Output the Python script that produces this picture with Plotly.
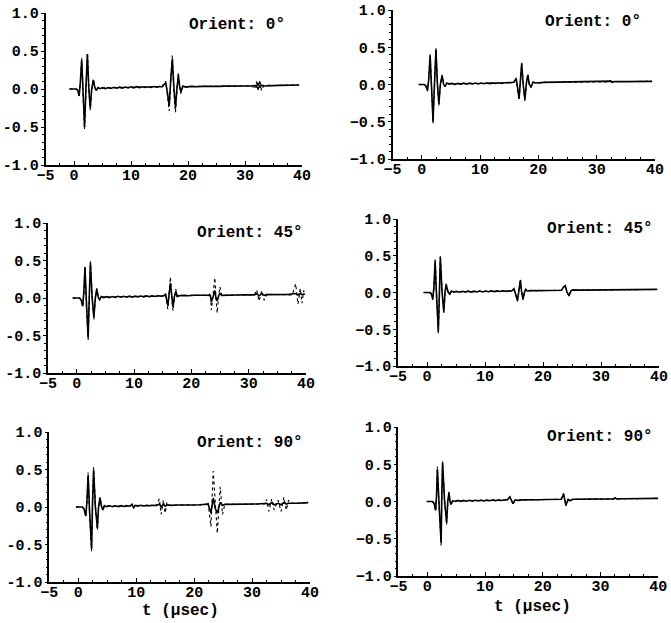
import plotly.graph_objects as go

# ---------------- data: [t (usec), amplitude] ----------------
solid_0_left = [[-0.8,0],[0.4,0],[0.65,-0.02],[0.9,-0.09],[1.1,0.08],[1.35,0.38],[1.6,-0.05],[1.85,-0.50],[2.1,0.02],[2.35,0.46],[2.6,0.0],[2.85,-0.25],[3.1,0.0],[3.4,0.12],[3.65,0.02],[3.9,-0.02],[4.2,0.02],[4.6,0.005],[5.0,0.018],[5.5,0.005],[6.0,0.02],[6.5,0.008],[7.0,0.022],[7.5,0.01],[8.0,0.024],[8.5,0.012],[9.0,0.026],[9.5,0.014],[10.0,0.028],[10.5,0.016],[11.0,0.03],[11.5,0.018],[12.0,0.03],[12.5,0.02],[13.0,0.03],[13.5,0.022],[14.0,0.032],[14.5,0.025],[15.0,0.032],[15.5,0.03],[15.8,0.06],[16.1,0.08],[16.4,-0.05],[16.7,-0.22],[16.95,0.1],[17.25,0.40],[17.5,0.05],[17.8,-0.25],[18.05,0.0],[18.3,0.18],[18.5,0.05],[18.75,-0.04],[19.1,0.04],[19.6,0.025],[20.5,0.035],[21.5,0.03],[22.5,0.035],[23.5,0.032],[24.5,0.036],[25.5,0.034],[26.5,0.038],[27.5,0.036],[28.5,0.04],[29.5,0.038],[30.5,0.04],[31.3,0.04],[31.7,0.045],[32.0,0.03],[32.3,0.08],[32.6,0.02],[32.9,0.05],[33.3,0.04],[34.0,0.045],[35.0,0.045],[36.0,0.048],[37.0,0.048],[38.0,0.05],[39.0,0.05],[39.5,0.052]]
dashed_0_left = [[-0.8,0],[0.4,0],[0.65,-0.01],[0.9,-0.1],[1.1,0.05],[1.35,0.41],[1.6,-0.1],[1.85,-0.53],[2.1,-0.02],[2.35,0.48],[2.6,0.04],[2.85,-0.28],[3.1,-0.03],[3.4,0.13],[3.65,0.03],[3.9,-0.03],[4.2,0.01],[4.6,0.015],[5.0,0.01],[5.5,0.015],[6.0,0.01],[6.5,0.018],[7.0,0.012],[7.5,0.02],[8.0,0.014],[8.5,0.022],[9.0,0.016],[9.5,0.024],[10.0,0.018],[10.5,0.026],[11.0,0.02],[11.5,0.028],[12.0,0.022],[12.5,0.03],[13.0,0.024],[13.5,0.03],[14.0,0.026],[14.5,0.032],[15.0,0.028],[15.5,0.035],[15.8,0.08],[16.1,0.1],[16.4,-0.1],[16.7,-0.29],[16.95,0.05],[17.25,0.44],[17.5,0.0],[17.8,-0.31],[18.05,-0.02],[18.3,0.22],[18.5,0.04],[18.75,-0.06],[19.1,0.04],[19.6,0.03],[21.0,0.035],[23.0,0.035],[25.0,0.037],[27.0,0.038],[29.0,0.04],[31.3,0.04],[31.7,0.0],[32.0,0.1],[32.3,-0.03],[32.6,0.12],[32.9,-0.02],[33.3,0.05],[35.0,0.046],[37.0,0.048],[39.5,0.052]]

solid_0_right = [[-0.5,0],[0.4,0],[0.7,-0.02],[1.0,-0.08],[1.2,0.06],[1.45,0.39],[1.7,-0.05],[1.95,-0.50],[2.2,0.02],[2.45,0.47],[2.7,0.0],[2.95,-0.26],[3.2,0.0],[3.5,0.12],[3.75,0.01],[4.0,-0.03],[4.3,0.02],[4.7,0.005],[5.2,0.015],[5.7,0.0],[6.2,0.015],[6.7,0.005],[7.2,0.018],[7.7,0.006],[8.2,0.018],[8.7,0.008],[9.2,0.02],[9.7,0.008],[10.2,0.02],[10.7,0.01],[11.2,0.022],[11.7,0.012],[12.2,0.022],[12.7,0.014],[13.2,0.024],[13.7,0.016],[14.2,0.024],[14.7,0.02],[15.2,0.025],[15.8,0.03],[16.2,0.08],[16.45,-0.05],[16.7,-0.19],[16.95,0.08],[17.15,0.28],[17.4,0.0],[17.7,-0.2],[17.95,0.02],[18.2,0.13],[18.45,0.0],[18.75,-0.03],[19.1,0.03],[19.6,0.02],[21.0,0.028],[23.0,0.03],[25.0,0.032],[27.0,0.033],[29.0,0.034],[31.0,0.035],[32.0,0.036],[32.4,0.045],[32.7,0.03],[33.0,0.04],[35.0,0.038],[37.0,0.04],[39.5,0.042]]
dashed_0_right = [[-0.5,0],[0.4,0],[0.7,-0.01],[1.0,-0.09],[1.2,0.05],[1.45,0.41],[1.7,-0.08],[1.95,-0.52],[2.2,0.0],[2.45,0.49],[2.7,0.02],[2.95,-0.28],[3.2,-0.02],[3.5,0.13],[3.75,0.02],[4.0,-0.03],[4.3,0.015],[4.7,0.01],[5.2,0.012],[5.7,0.006],[6.2,0.014],[6.7,0.008],[7.2,0.016],[7.7,0.01],[8.2,0.017],[8.7,0.01],[9.2,0.018],[9.7,0.012],[10.2,0.02],[10.7,0.014],[11.2,0.02],[11.7,0.016],[12.2,0.022],[12.7,0.018],[13.2,0.022],[13.7,0.02],[14.2,0.024],[14.7,0.022],[15.2,0.025],[15.8,0.03],[16.2,0.09],[16.45,-0.06],[16.7,-0.21],[16.95,0.06],[17.15,0.29],[17.4,0.0],[17.7,-0.22],[17.95,0.0],[18.2,0.14],[18.45,0.0],[18.75,-0.04],[19.1,0.03],[19.6,0.02],[21.0,0.028],[23.0,0.03],[25.0,0.032],[27.0,0.033],[29.0,0.034],[31.0,0.035],[32.0,0.036],[32.4,0.05],[32.7,0.025],[33.0,0.04],[35.0,0.038],[37.0,0.04],[39.5,0.042]]

solid_45_left = [[-0.7,0],[0.5,0],[0.8,-0.03],[1.05,-0.11],[1.25,0.08],[1.45,0.41],[1.7,-0.05],[2.0,-0.53],[2.2,0.02],[2.4,0.47],[2.7,0.0],[3.0,-0.26],[3.25,0.0],[3.5,0.12],[3.75,0.01],[4.0,-0.02],[4.3,0.02],[4.7,0.005],[5.2,0.018],[5.7,0.005],[6.2,0.02],[6.7,0.008],[7.2,0.022],[7.7,0.01],[8.2,0.022],[8.7,0.01],[9.2,0.024],[9.7,0.012],[10.2,0.025],[10.7,0.015],[11.2,0.026],[11.7,0.016],[12.2,0.028],[12.7,0.018],[13.2,0.028],[13.7,0.02],[14.2,0.03],[14.7,0.025],[15.2,0.03],[15.5,0.05],[15.9,-0.1],[16.1,0.05],[16.35,0.2],[16.6,0.02],[16.8,-0.12],[17.05,0.02],[17.3,0.09],[17.55,0.02],[17.8,0.03],[18.5,0.035],[19.5,0.03],[20.5,0.036],[21.5,0.032],[22.5,0.036],[23.3,0.035],[23.5,-0.05],[23.8,0.02],[24.1,0.1],[24.3,0.0],[24.5,-0.04],[24.8,0.04],[25.0,0.06],[25.3,0.035],[26.5,0.04],[28.0,0.04],[29.5,0.042],[31.0,0.042],[31.4,0.06],[31.8,0.03],[32.3,0.055],[32.7,0.035],[33.2,0.045],[35.0,0.046],[37.0,0.048],[38.2,0.06],[38.6,0.04],[39.0,0.06],[39.3,0.045],[39.8,0.055]]
dashed_45_left = [[-0.7,0],[0.5,0],[0.8,-0.02],[1.05,-0.12],[1.25,0.06],[1.45,0.43],[1.7,-0.1],[2.0,-0.56],[2.2,-0.02],[2.4,0.49],[2.7,0.03],[3.0,-0.29],[3.25,-0.03],[3.5,0.13],[3.75,0.02],[4.0,-0.03],[4.3,0.015],[4.7,0.012],[5.2,0.012],[5.7,0.012],[6.2,0.015],[6.7,0.014],[7.2,0.016],[7.7,0.016],[8.2,0.018],[8.7,0.016],[9.2,0.02],[9.7,0.018],[10.2,0.022],[10.7,0.02],[11.2,0.024],[11.7,0.022],[12.2,0.025],[12.7,0.024],[13.2,0.026],[13.7,0.026],[14.2,0.028],[14.7,0.028],[15.2,0.03],[15.5,0.06],[15.9,-0.15],[16.1,0.05],[16.35,0.28],[16.6,0.0],[16.8,-0.17],[17.05,0.0],[17.3,0.12],[17.55,0.0],[17.8,0.03],[18.5,0.035],[20.0,0.034],[21.5,0.034],[23.0,0.035],[23.3,0.06],[23.5,-0.16],[23.8,0.05],[24.1,0.27],[24.3,0.0],[24.5,-0.2],[24.8,0.05],[25.0,0.15],[25.3,0.03],[26.5,0.04],[28.0,0.04],[29.5,0.042],[31.0,0.042],[31.4,0.11],[31.8,-0.04],[32.3,0.1],[32.7,-0.03],[33.2,0.05],[35.0,0.046],[37.0,0.048],[37.6,0.04],[38.2,0.19],[38.6,-0.08],[39.0,0.13],[39.3,-0.07],[39.6,0.1],[39.8,0.05]]

solid_45_right = [[-0.6,0],[0.5,0],[0.75,-0.02],[1.0,-0.09],[1.2,0.08],[1.4,0.43],[1.65,-0.05],[1.95,-0.53],[2.15,0.02],[2.3,0.48],[2.6,0.0],[2.9,-0.26],[3.1,0.0],[3.3,0.11],[3.6,0.01],[3.9,-0.02],[4.2,0.02],[4.6,0.005],[5.1,0.015],[5.6,0.004],[6.1,0.016],[6.6,0.006],[7.1,0.018],[7.6,0.006],[8.1,0.018],[8.6,0.008],[9.1,0.02],[9.6,0.008],[10.1,0.02],[10.6,0.01],[11.1,0.022],[11.6,0.012],[12.1,0.022],[12.6,0.014],[13.1,0.024],[13.6,0.016],[14.1,0.024],[14.6,0.02],[15.0,0.05],[15.3,-0.02],[15.6,-0.11],[15.85,0.03],[16.1,0.17],[16.3,0.02],[16.55,-0.09],[16.8,0.0],[17.0,0.04],[17.3,0.02],[17.8,0.025],[19.0,0.025],[20.5,0.028],[22.0,0.03],[23.2,0.03],[23.5,0.07],[23.85,0.09],[24.15,0.0],[24.5,-0.04],[24.8,0.02],[25.1,0.035],[26.5,0.032],[28.0,0.034],[30.0,0.035],[32.0,0.036],[34.0,0.037],[36.0,0.038],[38.0,0.04],[39.7,0.042]]
dashed_45_right = [[-0.6,0],[0.5,0],[0.75,-0.01],[1.0,-0.1],[1.2,0.06],[1.4,0.45],[1.65,-0.08],[1.95,-0.56],[2.15,0.0],[2.3,0.5],[2.6,0.02],[2.9,-0.28],[3.1,-0.02],[3.3,0.12],[3.6,0.02],[3.9,-0.03],[4.2,0.015],[4.6,0.01],[5.1,0.012],[5.6,0.008],[6.1,0.014],[6.6,0.01],[7.1,0.016],[7.6,0.01],[8.1,0.016],[8.6,0.012],[9.1,0.018],[9.6,0.012],[10.1,0.018],[10.6,0.014],[11.1,0.02],[11.6,0.016],[12.1,0.02],[12.6,0.018],[13.1,0.022],[13.6,0.02],[14.1,0.022],[14.6,0.022],[15.0,0.04],[15.3,-0.03],[15.6,-0.12],[15.85,0.02],[16.1,0.18],[16.3,0.0],[16.55,-0.1],[16.8,0.0],[17.0,0.05],[17.3,0.02],[17.8,0.025],[19.0,0.025],[20.5,0.028],[22.0,0.03],[23.2,0.03],[23.5,0.07],[23.85,0.1],[24.15,0.0],[24.5,-0.05],[24.8,0.02],[25.1,0.035],[26.5,0.032],[28.0,0.034],[30.0,0.035],[32.0,0.036],[34.0,0.037],[36.0,0.038],[38.0,0.04],[39.7,0.042]]

solid_90_left = [[-0.4,0],[0.7,0],[1.0,-0.03],[1.3,-0.12],[1.5,0.08],[1.7,0.43],[1.95,-0.05],[2.3,-0.56],[2.45,0.02],[2.65,0.5],[2.95,0.0],[3.3,-0.28],[3.5,0.0],[3.75,0.12],[4.0,0.01],[4.25,-0.04],[4.5,0.02],[4.9,0.005],[5.4,0.016],[5.9,0.004],[6.4,0.016],[6.9,0.006],[7.4,0.018],[7.9,0.008],[8.4,0.018],[8.9,0.01],[9.3,0.03],[9.55,-0.01],[9.8,0.02],[10.3,0.012],[10.8,0.022],[11.3,0.014],[11.8,0.022],[12.3,0.016],[12.8,0.024],[13.5,0.02],[14.0,0.04],[14.3,0.0],[14.7,0.04],[15.0,0.01],[15.4,0.03],[16.0,0.022],[17.0,0.026],[18.0,0.024],[19.0,0.028],[20.0,0.026],[21.0,0.03],[22.0,0.03],[22.4,0.04],[22.9,-0.08],[23.3,0.12],[23.65,-0.02],[24.0,-0.08],[24.5,0.06],[24.9,0.02],[25.3,0.035],[26.5,0.035],[28.0,0.037],[29.5,0.038],[31.0,0.04],[32.5,0.05],[32.9,0.03],[33.4,0.06],[33.8,0.03],[34.5,0.05],[35.0,0.03],[35.5,0.06],[35.9,0.04],[36.3,0.05],[37.0,0.048],[38.0,0.05],[39.0,0.055],[39.7,0.058]]
dashed_90_left = [[-0.4,0],[0.7,0],[1.0,-0.02],[1.3,-0.13],[1.5,0.06],[1.7,0.46],[1.95,-0.1],[2.3,-0.59],[2.45,-0.02],[2.65,0.53],[2.95,0.03],[3.3,-0.31],[3.5,-0.03],[3.75,0.13],[4.0,0.02],[4.25,-0.05],[4.5,0.015],[4.9,0.012],[5.4,0.012],[5.9,0.012],[6.4,0.014],[6.9,0.014],[7.4,0.016],[7.9,0.016],[8.4,0.018],[8.9,0.016],[9.3,0.04],[9.55,-0.02],[9.8,0.025],[10.3,0.018],[10.8,0.02],[11.3,0.02],[11.8,0.022],[12.3,0.022],[12.8,0.024],[13.5,0.022],[14.0,0.11],[14.3,-0.1],[14.7,0.09],[15.0,-0.08],[15.3,0.06],[15.6,0.02],[16.0,0.022],[17.0,0.026],[18.0,0.024],[19.0,0.028],[20.0,0.026],[21.0,0.03],[22.0,0.03],[22.4,0.07],[22.9,-0.26],[23.3,0.48],[23.65,0.0],[24.0,-0.35],[24.5,0.27],[24.9,-0.1],[25.3,0.035],[26.5,0.035],[28.0,0.037],[29.5,0.038],[31.0,0.04],[32.2,0.04],[32.5,0.1],[32.9,-0.06],[33.4,0.11],[33.8,-0.04],[34.5,0.09],[35.0,-0.06],[35.5,0.13],[35.9,-0.04],[36.3,0.09],[36.7,0.05],[37.5,0.05],[38.5,0.052],[39.7,0.058]]

solid_90_right = [[-0.1,0],[0.9,0],[1.2,-0.03],[1.45,-0.12],[1.6,0.08],[1.75,0.44],[2.05,-0.05],[2.4,-0.56],[2.5,0.02],[2.65,0.52],[3.0,0.0],[3.35,-0.28],[3.55,0.0],[3.75,0.12],[3.95,0.0],[4.1,-0.04],[4.4,0.01],[4.8,0.0],[5.3,0.014],[5.8,0.002],[6.3,0.015],[6.8,0.004],[7.3,0.016],[7.8,0.006],[8.3,0.017],[8.8,0.008],[9.3,0.018],[9.8,0.008],[10.3,0.018],[10.8,0.01],[11.3,0.02],[11.8,0.012],[12.3,0.02],[12.8,0.014],[13.4,0.02],[13.9,0.025],[14.3,0.06],[14.6,0.0],[14.85,-0.03],[15.2,0.02],[15.7,0.015],[16.5,0.022],[17.5,0.02],[18.5,0.024],[19.5,0.024],[20.5,0.026],[21.5,0.026],[22.5,0.028],[23.2,0.03],[23.6,0.1],[24.0,-0.05],[24.4,0.03],[24.7,0.01],[25.2,0.03],[26.5,0.03],[28.0,0.032],[29.5,0.033],[31.0,0.035],[32.3,0.035],[32.5,0.05],[32.8,0.035],[34.0,0.037],[36.0,0.038],[38.0,0.04],[40.0,0.042]]
dashed_90_right = [[-0.1,0],[0.9,0],[1.2,-0.02],[1.45,-0.13],[1.6,0.06],[1.75,0.47],[2.05,-0.08],[2.4,-0.59],[2.5,0.0],[2.65,0.54],[3.0,0.02],[3.35,-0.31],[3.55,-0.02],[3.75,0.13],[3.95,0.01],[4.1,-0.05],[4.4,0.01],[4.8,0.006],[5.3,0.012],[5.8,0.008],[6.3,0.013],[6.8,0.01],[7.3,0.014],[7.8,0.012],[8.3,0.015],[8.8,0.012],[9.3,0.016],[9.8,0.014],[10.3,0.016],[10.8,0.016],[11.3,0.018],[11.8,0.016],[12.3,0.018],[12.8,0.018],[13.4,0.02],[13.9,0.025],[14.3,0.065],[14.6,0.0],[14.85,-0.035],[15.2,0.02],[15.7,0.015],[16.5,0.022],[17.5,0.02],[18.5,0.024],[19.5,0.024],[20.5,0.026],[21.5,0.026],[22.5,0.028],[23.2,0.03],[23.6,0.11],[24.0,-0.06],[24.4,0.03],[24.7,0.01],[25.2,0.03],[26.5,0.03],[28.0,0.032],[29.5,0.033],[31.0,0.035],[32.3,0.035],[32.5,0.05],[32.8,0.035],[34.0,0.037],[36.0,0.038],[38.0,0.04],[40.0,0.042]]

orient_labels = ["Orient: 0°", "Orient: 0°", "Orient: 45°", "Orient: 45°", "Orient: 90°", "Orient: 90°"]
x_ticks = [-5, 0, 10, 20, 30, 40]
y_ticks = [-1.0, -0.5, 0.0, 0.5, 1.0]
x_title = "t (μsec)"

panels = [
    (solid_0_left, dashed_0_left),
    (solid_0_right, dashed_0_right),
    (solid_45_left, dashed_45_left),
    (solid_45_right, dashed_45_right),
    (solid_90_left, dashed_90_left),
    (solid_90_right, dashed_90_right),
]

# ---------------- layout (pixel geometry of the page) ----------------
W, H = 671, 623
px_boxes = [  # x0, x1, ytop, ybottom  (pixels)
    (45.5, 302, 13, 165),
    (392.5, 655, 10, 159),
    (48, 306, 223, 373),
    (398, 659, 219, 366),
    (49.3, 310, 432, 582),
    (398.4, 658.3, 427, 576),
]
label_pos = [(37.4, 0.84), (37.9, 0.84), (39.8, 0.87), (39.3, 0.86), (39.1, 0.85), (39.4, 0.86)]
title_px = [(180, 611), (532, 607)]

FONT = "Liberation Mono"
TICKFONT = dict(family=FONT, size=15, color="black", weight="bold")
fig = go.Figure()
layout = dict(width=W, height=H, margin=dict(l=0, r=0, t=0, b=0, pad=0, autoexpand=False),
              paper_bgcolor="white", plot_bgcolor="white", showlegend=False,
              font=dict(family=FONT, size=14, color="black"), annotations=[])

for i, ((sol, das), box) in enumerate(zip(panels, px_boxes)):
    n = i + 1
    xa = "x" if n == 1 else f"x{n}"
    ya = "y" if n == 1 else f"y{n}"
    fig.add_trace(go.Scatter(x=[p[0] for p in das], y=[p[1] for p in das], mode="lines",
                             line=dict(color="black", width=1.1, dash="dot"),
                             xaxis=xa, yaxis=ya))
    fig.add_trace(go.Scatter(x=[p[0] for p in sol], y=[p[1] for p in sol], mode="lines",
                             line=dict(color="black", width=1.6),
                             xaxis=xa, yaxis=ya))
    x0, x1, yt, yb = box
    right = (i % 2 == 1)
    minus = "−" if right else "-"
    ytext = [f"{v:.1f}".replace("-", minus) for v in y_ticks]
    xtext = [str(v).replace("-", "−") for v in x_ticks]
    xkey = "xaxis" if n == 1 else f"xaxis{n}"
    ykey = "yaxis" if n == 1 else f"yaxis{n}"
    layout[xkey] = dict(domain=[x0 / W, x1 / W], anchor=ya, range=[-5, 40],
                        tickvals=x_ticks, ticktext=xtext, ticks="inside", ticklen=4,
                        tickcolor="black", showline=True, linecolor="black", linewidth=1.5,
                        showgrid=False, zeroline=False, tickfont=TICKFONT,
                        ticklabelstandoff=-5,
                        minor=dict(dtick=2.5, ticks="inside", ticklen=2, tickcolor="black"),
                        automargin=False, fixedrange=True)
    layout[ykey] = dict(domain=[1 - yb / H, 1 - yt / H], anchor=xa, range=[-1, 1],
                        tickvals=y_ticks, ticktext=ytext, ticks="outside", ticklen=3,
                        tickcolor="black", showline=True, linecolor="black", linewidth=1.5,
                        showgrid=False, zeroline=False, tickfont=TICKFONT,
                        ticklabelstandoff=-1,
                        minor=dict(dtick=0.1, ticks="outside", ticklen=2, tickcolor="black"),
                        automargin=False, fixedrange=True)
    lx, ly = label_pos[i]
    layout["annotations"].append(dict(text=orient_labels[i], x=lx, y=ly, xref=xa, yref=ya,
                                      xanchor="right", yanchor="middle", showarrow=False,
                                      font=dict(family=FONT, size=16, weight="bold")))

for tx, ty in title_px:
    layout["annotations"].append(dict(text=x_title, x=tx / W, y=1 - ty / H, xref="paper", yref="paper",
                                      xanchor="center", yanchor="middle", showarrow=False,
                                      font=dict(family=FONT, size=16, weight="bold")))

fig.update_layout(**layout)
fig.write_html("out.html", config={"displayModeBar": False},
               post_script="document.body.style.margin='0px';document.body.style.overflow='hidden';")
